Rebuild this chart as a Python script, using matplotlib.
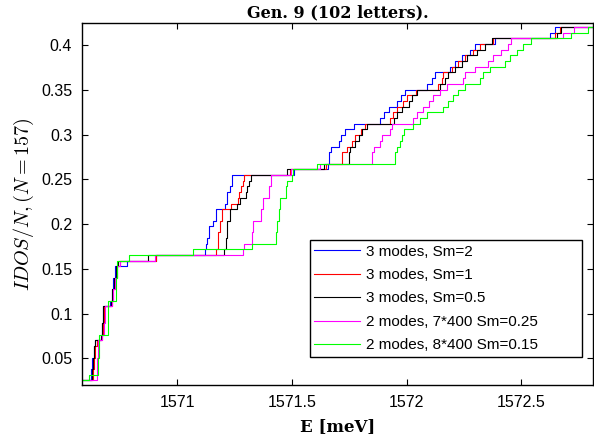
import matplotlib
matplotlib.use('Agg')
import matplotlib.pyplot as plt
import numpy as np

N_STATES = 157

LABELS = ['3 modes, Sm=2', '3 modes, Sm=1', '3 modes, Sm=0.5',
          '2 modes, 7*400 Sm=0.25', '2 modes, 8*400 Sm=0.15']
COLORS = ['#0000ff', '#ff0000', '#000000', '#ff00ff', '#00ff00']

# step positions (meV) and integrated state count after each step
E_BLUE = [1570.55, 1570.622, 1570.628, 1570.634, 1570.640, 1570.664, 1570.670, 1570.675, 1570.706, 1570.712, 1570.720, 1570.728, 1570.780, 1570.905,
          1571.122, 1571.126, 1571.130, 1571.139, 1571.157, 1571.170, 1571.209, 1571.217, 1571.230, 1571.239, 1571.510, 1571.655,
          1571.661, 1571.668, 1571.704, 1571.714, 1571.733, 1571.770, 1571.886, 1571.900, 1571.922, 1571.958, 1571.975, 1571.994,
          1572.088, 1572.110, 1572.125, 1572.190, 1572.212, 1572.241, 1572.277, 1572.299, 1572.386, 1572.626, 1572.646, 1572.85]
N_BLUE = [4, 6, 8, 10, 11, 12, 14, 17, 18, 20, 22, 24, 25, 26,
          27, 28, 29, 31, 32, 34, 35, 37, 38, 40, 41, 42,
          44, 45, 46, 47, 48, 49, 50, 51, 52, 53, 54, 55,
          56, 57, 58, 59, 60, 61, 62, 63, 64, 65, 66, 66]

E_RED = [1570.55, 1570.630, 1570.636, 1570.642, 1570.648, 1570.670, 1570.676, 1570.680, 1570.712, 1570.718, 1570.726, 1570.736, 1570.748, 1570.905,
         1571.170, 1571.178, 1571.184, 1571.196, 1571.232, 1571.262, 1571.270, 1571.277, 1571.284, 1571.291, 1571.490, 1571.650,
         1571.719, 1571.740, 1571.762, 1571.777, 1571.800, 1571.820, 1571.929, 1571.939, 1571.957, 1571.984, 1572.001, 1572.042,
         1572.139, 1572.153, 1572.161, 1572.197, 1572.226, 1572.255, 1572.291, 1572.320, 1572.378, 1572.649, 1572.668, 1572.85]
N_RED = [4, 6, 8, 10, 11, 12, 14, 17, 18, 20, 22, 24, 25, 26,
         27, 30, 32, 34, 35, 36, 37, 38, 39, 40, 41, 42,
         44, 45, 46, 47, 48, 49, 50, 51, 52, 53, 54, 55,
         56, 57, 58, 59, 60, 61, 62, 63, 64, 65, 66, 66]

E_BLACK = [1570.55, 1570.626, 1570.631, 1570.636, 1570.642, 1570.668, 1570.672, 1570.676, 1570.708, 1570.714, 1570.722, 1570.730, 1570.740, 1570.870,
           1571.205, 1571.210, 1571.214, 1571.228, 1571.258, 1571.275, 1571.297, 1571.304, 1571.312, 1571.320, 1571.478, 1571.639,
           1571.748, 1571.755, 1571.776, 1571.791, 1571.806, 1571.828, 1571.943, 1571.958, 1571.980, 1572.009, 1572.023, 1572.045,
           1572.146, 1572.168, 1572.183, 1572.212, 1572.241, 1572.262, 1572.306, 1572.342, 1572.371, 1572.657, 1572.674, 1572.85]
N_BLACK = [4, 6, 8, 10, 11, 12, 14, 17, 18, 20, 22, 24, 25, 26,
           27, 29, 32, 34, 35, 36, 37, 38, 39, 40, 41, 42,
           44, 45, 46, 47, 48, 49, 50, 51, 52, 53, 54, 55,
           56, 57, 58, 59, 60, 61, 62, 63, 64, 65, 66, 66]

E_MAG = [1570.55, 1570.650, 1570.654, 1570.672, 1570.680, 1570.684, 1570.712, 1570.720, 1570.728, 1570.738, 1570.750, 1570.900,
         1571.285, 1571.290, 1571.325, 1571.330, 1571.365, 1571.372, 1571.400, 1571.410, 1571.495, 1571.620,
         1571.849, 1571.857, 1571.886, 1571.893, 1571.929, 1571.936, 1572.030, 1572.045, 1572.071, 1572.096, 1572.117, 1572.146,
         1572.175, 1572.248, 1572.255, 1572.299, 1572.357, 1572.378, 1572.414, 1572.443, 1572.458, 1572.683, 1572.733, 1572.85]
N_MAG = [4, 8, 11, 12, 14, 17, 18, 20, 22, 24, 25, 26,
         27, 28, 30, 32, 34, 36, 38, 40, 41, 42,
         44, 45, 46, 47, 48, 49, 50, 51, 52, 53, 54, 55,
         56, 57, 58, 59, 60, 61, 62, 63, 64, 65, 66, 66]

E_GREEN = [1570.55, 1570.612, 1570.652, 1570.656, 1570.696, 1570.732, 1570.736, 1570.790, 1571.068, 1571.326,
           1571.432, 1571.436, 1571.443, 1571.448, 1571.473, 1571.480, 1571.501, 1571.505, 1571.610,
           1571.951, 1571.957, 1571.973, 1571.980, 1571.990, 1572.030, 1572.060, 1572.088, 1572.157, 1572.183, 1572.204, 1572.226,
           1572.255, 1572.320, 1572.335, 1572.364, 1572.429, 1572.451, 1572.480, 1572.510, 1572.543, 1572.716, 1572.791, 1572.85]
N_GREEN = [4, 5, 8, 12, 18, 22, 25, 26, 27, 28,
           30, 32, 34, 36, 38, 39, 40, 41, 42,
           44, 45, 46, 47, 48, 49, 50, 51, 52, 53, 54, 55,
           56, 57, 58, 59, 60, 61, 62, 63, 64, 65, 66, 66]

X_TICKS = [1571, 1571.5, 1572, 1572.5]
X_TICKLABELS = ['1571', '1571.5', '1572', '1572.5']
Y_TICKS = [0.05, 0.1, 0.15, 0.2, 0.25, 0.3, 0.35, 0.4]
Y_TICKLABELS = ['0.05', '0.1', '0.15', '0.2', '0.25', '0.3', '0.35', '0.4']

plt.rcParams['font.family'] = ['Liberation Sans', 'DejaVu Sans']
plt.rcParams['mathtext.fontset'] = 'cm'

fig = plt.figure(figsize=(5.94, 4.47), dpi=100)
ax = fig.add_axes([0.138, 0.139, 0.860, 0.8095])

series = [(E_BLUE, N_BLUE), (E_RED, N_RED), (E_BLACK, N_BLACK),
          (E_MAG, N_MAG), (E_GREEN, N_GREEN)]
for (e, n), c, lab in zip(series, COLORS, LABELS):
    ax.step(e, np.array(n) / N_STATES, where='post', color=c, lw=0.8, label=lab)

ax.set_xlim(1570.583, 1572.813)
ax.set_ylim(0.0205, 0.4246)
ax.set_xticks(X_TICKS)
ax.set_xticklabels(X_TICKLABELS)
ax.set_yticks(Y_TICKS)
ax.set_yticklabels(Y_TICKLABELS)
ax.tick_params(direction='in', top=True, right=True, labelsize=11.5, length=4, width=0.8, pad=7)
for s in ax.spines.values():
    s.set_linewidth(1.0)

serif_bold = dict(family='DejaVu Serif', weight='bold')
ax.set_title('Gen. 9 (102 letters).', fontsize=11.5, pad=4, **serif_bold)
ax.set_xlabel('E [meV]', fontsize=12, labelpad=6, **serif_bold)
ax.set_ylabel(r'$IDOS/N, (N=157)$', fontsize=14.5, labelpad=4)

leg = ax.legend(loc='lower left', bbox_to_anchor=(0.446, 0.077, 0.532, 0.3),
                mode='expand', fontsize=11,
                frameon=True, fancybox=False, edgecolor='black', framealpha=1,
                handlelength=3.0, handletextpad=0.35, labelspacing=0.62,
                borderpad=0.3, borderaxespad=0)
leg.get_frame().set_linewidth(1.0)

fig.savefig('out.png', dpi=100)
